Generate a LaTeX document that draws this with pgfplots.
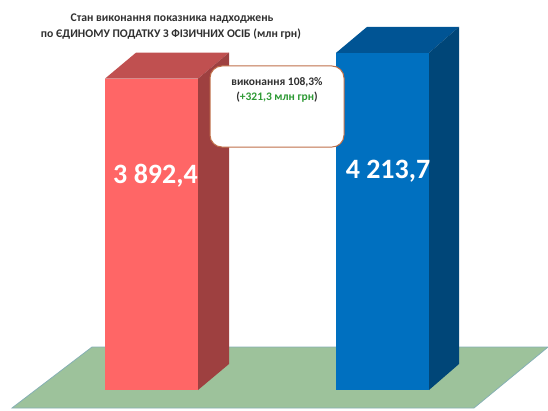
\documentclass[border=0pt]{standalone}
\usepackage{pgfplots}
\pgfplotsset{compat=1.18}
\usepackage{fontspec}
\setmainfont{Carlito}
\definecolor{redf}{HTML}{FF6666}
\definecolor{reds}{HTML}{9E4040}
\definecolor{redt}{HTML}{C05050}
\definecolor{bluef}{HTML}{0070C0}
\definecolor{blues}{HTML}{004678}
\definecolor{bluet}{HTML}{005494}
\definecolor{floorc}{HTML}{9DC29B}
\definecolor{flooredge}{HTML}{86B0B4}
\definecolor{boxedge}{HTML}{C0704A}
\definecolor{grn}{HTML}{2E9A35}
\definecolor{txt}{HTML}{303030}
\begin{document}
\begin{tikzpicture}
\begin{axis}[
  width=548pt,height=410pt,scale only axis,
  axis lines=none,
  xmin=0,xmax=548,
  ymin=-250,ymax=4875,
  clip=true,
]
\path (rel axis cs:0,0) rectangle (rel axis cs:1,1);
% floor
\addplot[fill=floorc,draw=flooredge,line width=0.8pt] coordinates {(12,-225) (92,537) (548,537) (474,-225)} --cycle;
% red bar (3892.4)
\addplot[fill=redt,draw=none] coordinates {(105,3892.4) (136,4217) (229,4217) (198,3892.4)} --cycle;
\addplot[fill=reds,draw=none] coordinates {(198,0) (229,325) (229,4217) (198,3892.4)} --cycle;
\addplot[fill=redf,draw=none] coordinates {(105,0) (105,3892.4) (198,3892.4) (198,0)} --cycle;
% blue bar (4213.7)
\addplot[fill=bluet,draw=none] coordinates {(336,4213.7) (367,4539) (459,4539) (429,4213.7)} --cycle;
\addplot[fill=blues,draw=none] coordinates {(429,0) (459,325) (459,4539) (429,4213.7)} --cycle;
\addplot[fill=bluef,draw=none] coordinates {(336,0) (336,4213.7) (429,4213.7) (429,0)} --cycle;
% callout
\draw[fill=white,draw=boxedge,line width=1pt,rounded corners=12pt]
  (axis cs:210,4050) rectangle (axis cs:344,3037);
\node[font=\fontsize{11.5}{13}\selectfont\bfseries,text=txt] at (axis cs:277,3850) {виконання 108,3\%};
\node[font=\fontsize{11.5}{13}\selectfont\bfseries,text=txt] at (axis cs:277,3662) {(\textcolor{grn}{+321,3 млн грн})};
% values
\node[font=\fontsize{28}{30}\selectfont\bfseries,text=white] at (axis cs:155.5,2676) {3 892,4};
\node[font=\fontsize{28}{30}\selectfont\bfseries,text=white] at (axis cs:388,2738) {4 213,7};
% title
\node[font=\fontsize{11.7}{13}\selectfont\bfseries,text=txt] at (axis cs:172,4637) {Стан виконання показника надходжень};
\node[font=\fontsize{11.7}{13}\selectfont\bfseries,text=txt] at (axis cs:171,4450) {по ЄДИНОМУ ПОДАТКУ З ФІЗИЧНИХ ОСІБ (млн грн)};
\end{axis}
\end{tikzpicture}
\end{document}
